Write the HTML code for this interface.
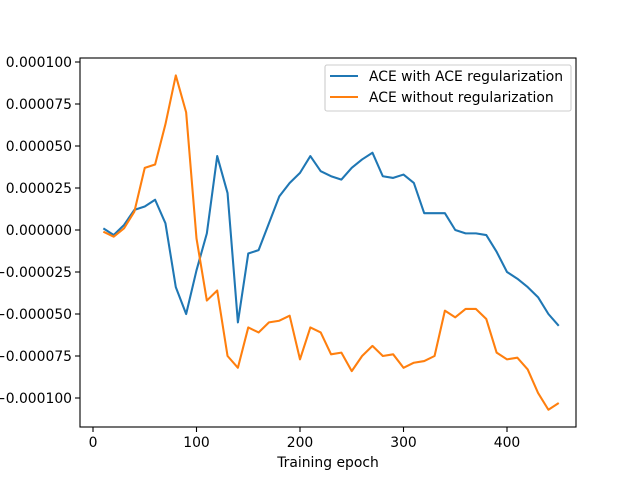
<!DOCTYPE html>
<html><head><meta charset="utf-8"><style>body{margin:0;background:#fff}svg{font-family:"DejaVu Sans","Liberation Sans",sans-serif}</style></head>
<body>
<svg id="chart" width="640" height="480" xmlns="http://www.w3.org/2000/svg"></svg>
<script>
const epochs=[10,20,30,40,50,60,70,80,90,100,110,120,130,140,150,160,170,180,190,200,210,220,230,240,250,260,270,280,290,300,310,320,330,340,350,360,370,380,390,400,410,420,430,440,450];
const withReg=[1,-3,3,12,14,18,4,-34,-50,-24,-2,44,22,-55,-14,-12,4,20,28,34,44,35,32,30,37,42,46,32,31,33,28,10,10,10,0,-2,-2,-3,-13,-25,-29,-34,-40,-50,-57];
const withoutReg=[-1,-4,1,11,37,39,63,92,70,-5,-42,-36,-75,-82,-58,-61,-55,-54,-51,-77,-58,-61,-74,-73,-84,-75,-69,-75,-74,-82,-79,-78,-75,-48,-52,-47,-47,-53,-73,-77,-76,-83,-97,-107,-103];
const xTicks=[0,100,200,300,400];
const yTicks=[100,75,50,25,0,-25,-50,-75,-100];
const yLabels=["0.000100","0.000075","0.000050","0.000025","0.000000","−0.000025","−0.000050","−0.000075","−0.000100"];
const NS="http://www.w3.org/2000/svg",svg=document.getElementById('chart');
const X=v=>93+v*1.035, Y=v=>230-v*1.68;
const FS=13.9;
function mk(t,a,p){const e=document.createElementNS(NS,t);for(const k in a)e.setAttribute(k,a[k]);(p||svg).appendChild(e);return e;}
xTicks.forEach((t,i)=>{const g=mk('g',{});


mk('line',{x1:X(t),x2:X(t),y1:427,y2:432,stroke:'#000','stroke-width':1.1},g);
const tx=mk('text',{x:X(t),y:447,'font-size':FS,'text-anchor':'middle'},g);tx.textContent=t;});
yTicks.forEach((t,i)=>{const g=mk('g',{});


mk('line',{x1:75,x2:80,y1:Y(t),y2:Y(t),stroke:'#000','stroke-width':1.1},g);
const tx=mk('text',{x:72,y:Y(t)+5,'font-size':FS,'text-anchor':'end'},g);tx.textContent=yLabels[i];});
function line(d,c,n){const p=mk('polyline',{points:d.map((v,i)=>X(epochs[i])+','+Y(v)).join(' '),fill:'none',stroke:c,'stroke-width':2.08,'stroke-linejoin':'round'});

}
line(withReg,'#1f77b4','series-with-regularization');
line(withoutReg,'#ff7f0e','series-without-regularization');
const fr=mk('rect',{x:80,y:58,width:496,height:369,fill:'none',stroke:'#000','stroke-width':1.1});


const xt=mk('text',{x:328,y:467,'font-size':FS,'text-anchor':'middle'});xt.textContent='Training epoch';


const lg=mk('g',{});


mk('rect',{x:325,y:65,width:246,height:46,rx:2,fill:'#fff',stroke:'#ccc','stroke-width':1.1},lg);
[['ACE with ACE regularization','#1f77b4',76],['ACE without regularization','#ff7f0e',97]].forEach(([t,c,y])=>{
const e=mk('g',{},lg);


mk('line',{x1:330,x2:358,y1:y,y2:y,stroke:c,'stroke-width':2.08},e);
const tx=mk('text',{x:369,y:y+5,'font-size':FS},e);tx.textContent=t;});
</script>
</body></html>
